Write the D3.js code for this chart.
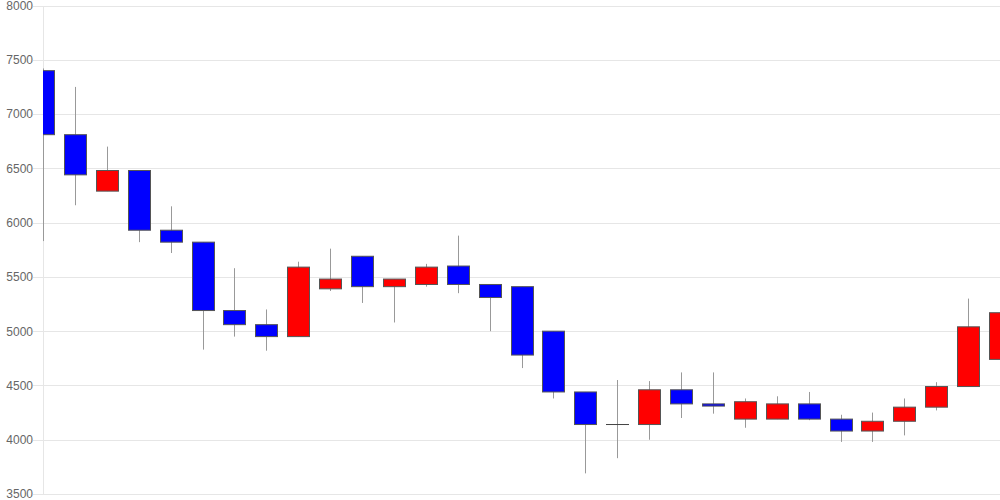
<!DOCTYPE html>
<html>
<head>
<meta charset="utf-8">
<script src="https://cdn.jsdelivr.net/npm/d3@7"></script>
<style>
  body { margin: 0; background: #fff; }
  svg { display: block; font-family: "Liberation Sans", Arial, sans-serif; }
</style>
</head>
<body>
<div id="root"></div>
<script>
// daily prices, oldest first
const opens  = [7400, 6810, 6290, 6480, 5930, 5820, 5190, 5060, 4950, 5390, 5690, 5410, 5430, 5600, 5430, 5410, 5000, 4440, 4140, 4140, 4460, 4330, 4190, 4190, 4330, 4190, 4080, 4170, 4300, 4490, 4740];
const closes = [6810, 6440, 6480, 5930, 5820, 5190, 5060, 4950, 5590, 5480, 5410, 5480, 5590, 5430, 5310, 4780, 4440, 4140, 4140, 4460, 4330, 4310, 4350, 4330, 4190, 4080, 4170, 4300, 4490, 5040, 5170];
const highs  = [7420, 7250, 6700, 6480, 6150, 5820, 5580, 5200, 5640, 5760, 5690, 5480, 5620, 5880, 5430, 5410, 5000, 4440, 4550, 4540, 4620, 4620, 4380, 4400, 4440, 4230, 4250, 4380, 4530, 5300, 5250];
const lows   = [5830, 6160, 6290, 5820, 5720, 4830, 4950, 4820, 4950, 5370, 5260, 5080, 5410, 5350, 5000, 4660, 4380, 3690, 3830, 4000, 4200, 4240, 4110, 4190, 4180, 3980, 3980, 4040, 4270, 4490, 4740];
const yTicks = [3500, 4000, 4500, 5000, 5500, 6000, 6500, 7000, 7500, 8000];

const width = 1000;
const height = 500;
const margin = { top: 5.5, right: 0, bottom: 6, left: 43 };

const candles = opens.map((o, i) => ({
  i,
  open: o,
  close: closes[i],
  high: highs[i],
  low: lows[i],
}));

const svg = d3.select('#root')
  .append('svg')
  .attr('width', width)
  .attr('height', height);

const x = d3.scaleLinear()
  .domain([0, candles.length - 1])
  .range([margin.left, width - margin.right]);

const y = d3.scaleLinear()
  .domain([3500, 8000])
  .range([height - margin.bottom, margin.top]);

// grid + ticks
const yAxis = svg.append('g')
  .attr('transform', `translate(${margin.left},0)`)
  .call(d3.axisLeft(y)
    .tickValues(yTicks)
    .tickSize(-(width - margin.left))
    .tickPadding(0)
    .tickFormat(d3.format('d')));

yAxis.select('.domain').remove();
yAxis.selectAll('.tick line')
  .attr('stroke', '#e6e6e6')
  .attr('x1', -10)
  .attr('shape-rendering', 'crispEdges');
yAxis.selectAll('.tick text')
  .attr('x', -10)
  .attr('fill', '#666')
  .attr('font-size', 12);

svg.append('line')
  .attr('x1', margin.left)
  .attr('x2', margin.left)
  .attr('y1', margin.top)
  .attr('y2', height - margin.bottom)
  .attr('stroke', '#e6e6e6')
  .attr('shape-rendering', 'crispEdges');

svg.append('clipPath')
  .attr('id', 'plot')
  .append('rect')
  .attr('x', margin.left)
  .attr('y', 0)
  .attr('width', width - margin.left)
  .attr('height', height);

const bodyW = 22;

const g = svg.append('g').attr('clip-path', 'url(#plot)');

const candle = g.selectAll('g.candle')
  .data(candles)
  .enter()
  .append('g')
  .attr('class', 'candle');

candle.append('line')
  .attr('x1', d => Math.round(x(d.i)) + 0.5)
  .attr('x2', d => Math.round(x(d.i)) + 0.5)
  .attr('y1', d => y(d.high))
  .attr('y2', d => y(d.low))
  .attr('stroke', '#999');

candle.filter(d => d.open !== d.close)
  .append('rect')
  .attr('x', d => Math.round(x(d.i)) - bodyW / 2 + 0.5)
  .attr('y', d => y(Math.max(d.open, d.close)))
  .attr('width', bodyW)
  .attr('height', d => Math.abs(y(d.open) - y(d.close)))
  .attr('fill', d => (d.close > d.open ? '#ff0000' : '#0000ff'))
  .attr('stroke', '#555')
  .attr('stroke-width', 1);

candle.filter(d => d.open === d.close)
  .append('line')
  .attr('x1', d => Math.round(x(d.i)) - bodyW / 2)
  .attr('x2', d => Math.round(x(d.i)) + bodyW / 2 + 1)
  .attr('y1', d => y(d.open))
  .attr('y2', d => y(d.open))
  .attr('stroke', '#444');
</script>
</body>
</html>
